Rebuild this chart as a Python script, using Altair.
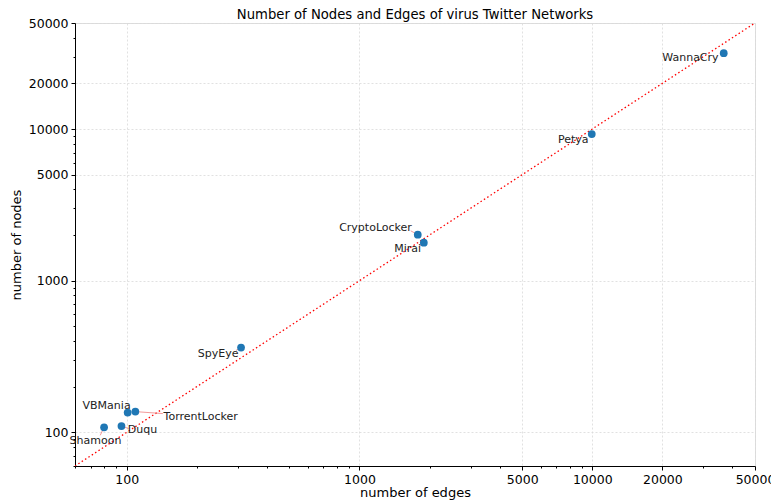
import altair as alt
import pandas as pd

# Network sizes per malware family
names = ["WannaCry", "Petya", "CryptoLocker", "Mirai", "SpyEye",
         "VBMania", "TorrentLocker", "Duqu", "Shamoon"]
edges = [36700, 9950, 1780, 1890, 310, 101, 109, 95, 80]
nodes = [31600, 9270, 2010, 1780, 362, 135, 137, 110, 108]

# Where each name label sits (data units)
label_edges = [26400, 8280, 1172, 1611, 247, 82, 208, 117, 73.5]
label_nodes = [29300, 8470, 2234, 1624, 331, 150, 127, 103, 87.3]

# Start of the leader line from label to point (data units)
arrow_edges = [36700, 9950, 1660, 1795, 295, 101, 143, 102, 77]
arrow_nodes = [31600, 9270, 2133, 1674, 347, 135, 133, 106, 95.6]

domain = [60, 50000]
major = [100, 1000, 5000, 10000, 20000, 50000]
minor = [60, 70, 80, 90, 200, 300, 400, 500, 600, 700, 800, 900,
         2000, 3000, 4000, 6000, 7000, 8000, 9000, 30000, 40000]

FONT = "DejaVu Sans"

pts = pd.DataFrame({"name": names, "edges": edges, "nodes": nodes,
                    "lx": label_edges, "ly": label_nodes,
                    "ax": arrow_edges, "ay": arrow_nodes})
diag = pd.DataFrame({"edges": domain, "nodes": domain})

major_list = "[" + ",".join(str(v) for v in major) + "]"
major_test = "indexof(" + major_list + ", datum.value) >= 0"


def make_axis(title, orient, title_pad):
    return alt.Axis(
        title=title,
        values=major + minor,
        labelExpr=major_test + " ? datum.value : ''",
        tickSize={"condition": {"test": major_test, "value": 4}, "value": 2},
        gridOpacity={"condition": {"test": major_test, "value": 1}, "value": 0},
        gridColor="#d9d9d9",
        gridDash=[2, 2],
        gridWidth=0.8,
        domainColor="black",
        tickColor="black",
        labelFont=FONT,
        labelFontSize=12.5,
        labelColor="black",
        titleFont=FONT,
        titleFontSize=13,
        titleFontWeight="normal",
        titleColor="black",
        titlePadding=title_pad,
        labelPadding=3,
        labelOverlap=False,
        labelFlush=False,
        orient=orient,
    )


xs = alt.Scale(type="log", domain=domain, nice=False)
ys = alt.Scale(type="log", domain=domain, nice=False)

x_enc = alt.X("edges:Q", scale=xs, axis=make_axis("number of edges", "bottom", 1))
y_enc = alt.Y("nodes:Q", scale=ys, axis=make_axis("number of nodes", "left", 5))

line = alt.Chart(diag).mark_line(
    color="red", strokeDash=[1.5, 2.5], strokeWidth=1.3, clip=True
).encode(x=x_enc, y=y_enc)

arrows = alt.Chart(pts).mark_rule(
    color="#f08080", strokeWidth=1, opacity=0.8
).encode(
    x=alt.X("ax:Q", scale=xs), y=alt.Y("ay:Q", scale=ys),
    x2="edges:Q", y2="nodes:Q",
)

dots = alt.Chart(pts).mark_circle(
    color="#1f77b4", size=60, opacity=1
).encode(x=x_enc, y=y_enc)

labels = alt.Chart(pts).mark_text(
    font=FONT, fontSize=11, color="#222222", align="center", baseline="middle"
).encode(
    x=alt.X("lx:Q", scale=xs), y=alt.Y("ly:Q", scale=ys), text="name:N"
)

chart = alt.layer(line, arrows, dots, labels).properties(
    width=680,
    height=443,
    title=alt.TitleParams(
        "Number of Nodes and Edges of virus Twitter Networks",
        font=FONT, fontSize=13.2, fontWeight="normal", color="black", offset=-5,
    ),
    autosize=alt.AutoSizeParams(type="none"),
    padding={"left": 75, "top": 23, "right": 16, "bottom": 36},
).configure_view(stroke="black", strokeWidth=1).configure(background="white")

chart.save("out.html", embed_options={"renderer": "svg", "actions": False})
